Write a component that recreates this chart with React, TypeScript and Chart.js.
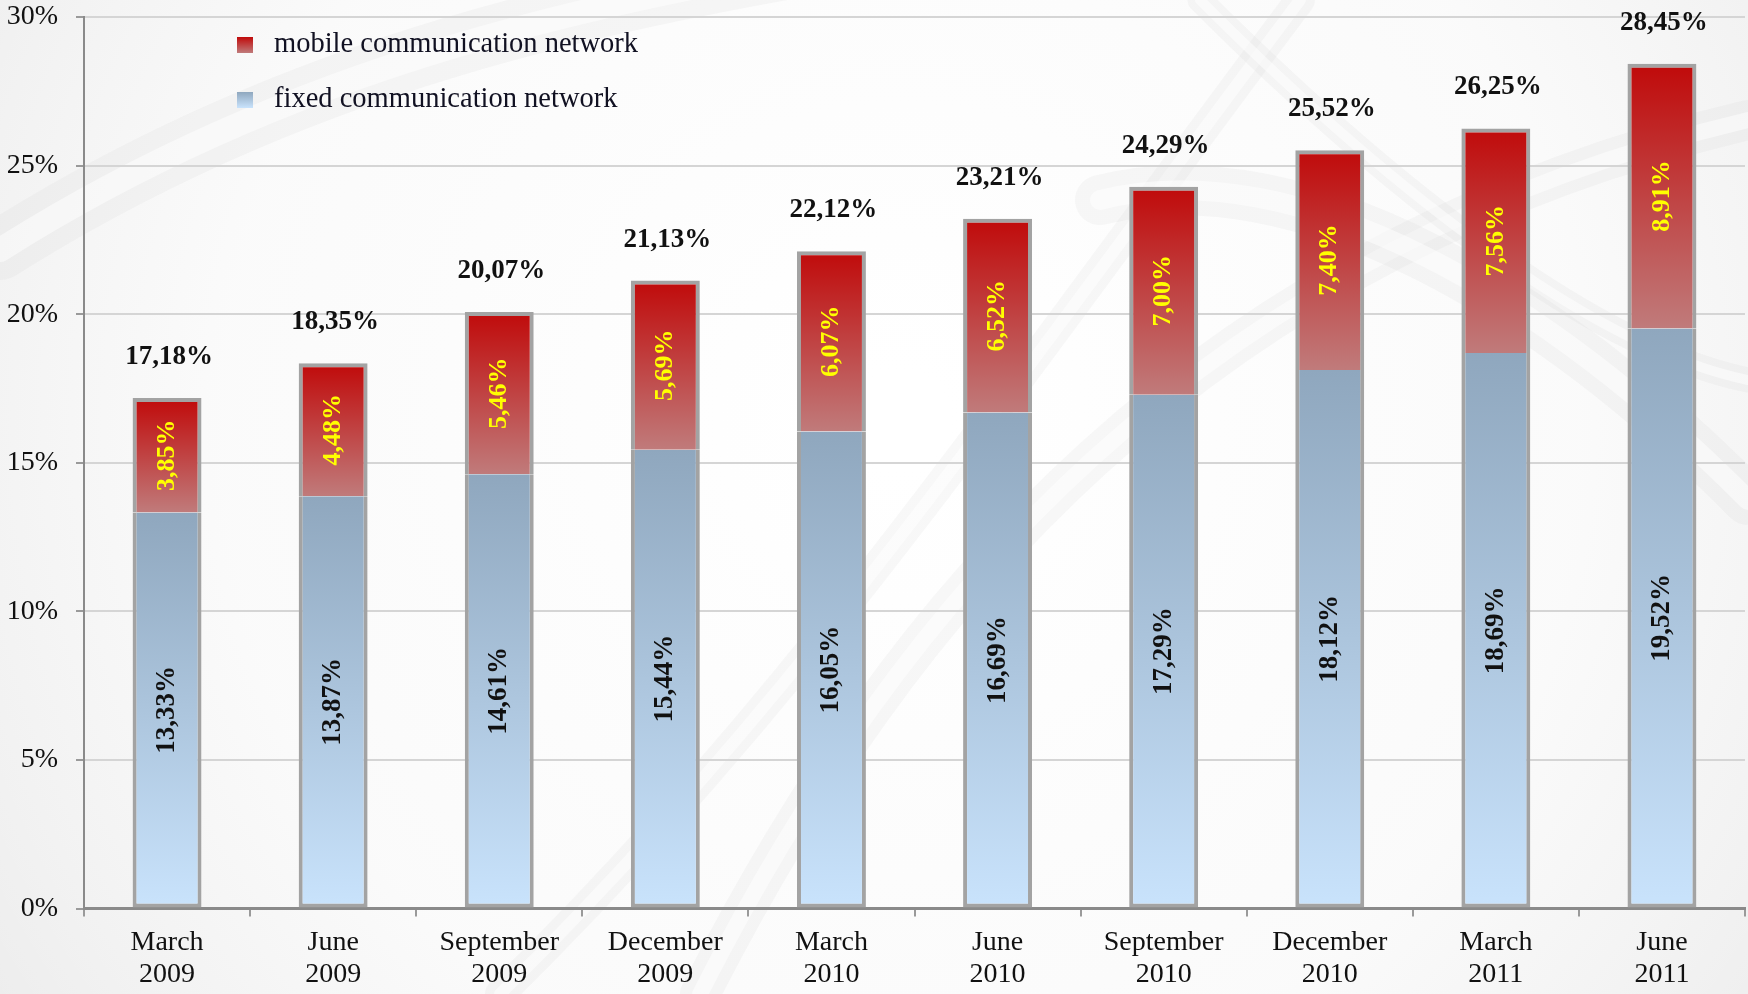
import React, { useEffect, useRef } from 'react';
import { Chart, registerables } from 'chart.js';

Chart.register(...registerables);

const categories: string[][] = [
  ['March', '2009'], ['June', '2009'], ['September', '2009'], ['December', '2009'],
  ['March', '2010'], ['June', '2010'], ['September', '2010'], ['December', '2010'],
  ['March', '2011'], ['June', '2011'],
];
const fixedValues = [13.33, 13.87, 14.61, 15.44, 16.05, 16.69, 17.29, 18.12, 18.69, 19.52];
const mobileValues = [3.85, 4.48, 5.46, 5.69, 6.07, 6.52, 7.0, 7.4, 7.56, 8.91];
const totalValues = [17.18, 18.35, 20.07, 21.13, 22.12, 23.21, 24.29, 25.52, 26.25, 28.45];
const yTicks = [0, 5, 10, 15, 20, 25, 30];
const legendLabels = ['mobile communication network', 'fixed communication network'];

const SERIF = "'Liberation Serif', 'DejaVu Serif', serif";
const fmt = (v: number) => v.toFixed(2).replace('.', ',') + '%';

const FIXED_TOP = '#8fa7be';
const FIXED_BOTTOM = '#c9e3fc';
const MOBILE_TOP = '#c00a0a';
const MOBILE_BOTTOM = '#c07b7b';

function segGradient(c: any, lowArr: number[] | null, highArr: number[], top: string, bottom: string, fallback: string) {
  const chart = c.chart;
  const y = chart.scales && chart.scales.y;
  if (!chart.chartArea || !y || c.dataIndex === undefined) return fallback;
  const i = c.dataIndex;
  const low = lowArr ? lowArr[i] : 0;
  const yTop = y.getPixelForValue(low + highArr[i]);
  const yBot = y.getPixelForValue(low);
  if (!isFinite(yTop) || !isFinite(yBot) || yTop === yBot) return fallback;
  const g = chart.ctx.createLinearGradient(0, yTop, 0, yBot);
  g.addColorStop(0, top);
  g.addColorStop(1, bottom);
  return g;
}

const backgroundPlugin = {
  id: 'bgDecor',
  beforeDraw(chart: any) {
    const { ctx, width, height } = chart;
    ctx.save();
    ctx.fillStyle = '#ececec';
    ctx.fillRect(0, 0, width, height);
    const rg = ctx.createRadialGradient(900, 420, 50, 900, 420, 1100);
    rg.addColorStop(0, 'rgba(255,255,255,1)');
    rg.addColorStop(0.6, 'rgba(252,252,252,0.9)');
    rg.addColorStop(1, 'rgba(255,255,255,0)');
    ctx.fillStyle = rg;
    ctx.fillRect(0, 0, width, height);
    ctx.lineCap = 'round';
    const strokes: [number, number, number, number, number, number, number, number, number][] = [
      [0, 250, 300, 60, 600, 0, 900, -50, 60],
      [700, 994, 900, 600, 1200, 250, 1748, 120, 40],
      [500, 994, 800, 700, 1000, 400, 1300, 0, 30],
      [1100, 200, 1300, 150, 1550, 300, 1748, 500, 50],
      [1200, 0, 1400, 200, 1600, 350, 1748, 380, 25],
    ];
    for (const s of strokes) {
      ctx.beginPath();
      ctx.moveTo(s[0], s[1]);
      ctx.bezierCurveTo(s[2], s[3], s[4], s[5], s[6], s[7]);
      ctx.strokeStyle = 'rgba(200,200,200,0.13)';
      ctx.lineWidth = s[8];
      ctx.stroke();
      ctx.strokeStyle = 'rgba(255,255,255,0.5)';
      ctx.lineWidth = s[8] * 0.4;
      ctx.stroke();
    }
    ctx.restore();
  },
};

const labelPlugin = {
  id: 'barLabels',
  afterDatasetsDraw(chart: any) {
    const ctx = chart.ctx;
    const mf = chart.getDatasetMeta(0);
    const mm = chart.getDatasetMeta(1);
    ctx.save();
    ctx.textAlign = 'center';
    ctx.textBaseline = 'middle';
    for (let i = 0; i < categories.length; i++) {
      const bf: any = mf.data[i];
      const bm: any = mm.data[i];
      if (!bf || !bm) continue;
      ctx.save();
      ctx.translate(bf.x, (bf.y + bf.base) / 2);
      ctx.rotate(-Math.PI / 2);
      ctx.font = `bold 27px ${SERIF}`;
      ctx.fillStyle = '#111111';
      ctx.fillText(fmt(fixedValues[i]), 0, 0);
      ctx.restore();
      ctx.save();
      ctx.translate(bm.x, (bm.y + bm.base) / 2);
      ctx.rotate(-Math.PI / 2);
      ctx.font = `bold 26px ${SERIF}`;
      ctx.fillStyle = '#ffff00';
      ctx.fillText(fmt(mobileValues[i]), 0, 0);
      ctx.restore();
      ctx.font = `bold 27px ${SERIF}`;
      ctx.fillStyle = '#111111';
      ctx.fillText(fmt(totalValues[i]), bm.x + 2, bm.y - 41);
    }
    ctx.restore();
  },
};

const legendPlugin = {
  id: 'customLegend',
  afterDraw(chart: any) {
    const ctx = chart.ctx;
    ctx.save();
    const items = [
      { text: legendLabels[0], top: MOBILE_TOP, bottom: MOBILE_BOTTOM, y: 45 },
      { text: legendLabels[1], top: FIXED_TOP, bottom: FIXED_BOTTOM, y: 100 },
    ];
    for (const it of items) {
      const g = ctx.createLinearGradient(0, it.y - 8, 0, it.y + 8);
      g.addColorStop(0, it.top);
      g.addColorStop(1, it.bottom);
      ctx.fillStyle = g;
      ctx.fillRect(237, it.y - 8, 16, 16);
      ctx.font = `28.5px ${SERIF}`;
      ctx.fillStyle = '#111122';
      ctx.textAlign = 'left';
      ctx.textBaseline = 'middle';
      ctx.fillText(it.text, 274, it.y);
    }
    ctx.restore();
  },
};

export default function App() {
  const ref = useRef<HTMLCanvasElement>(null);
  useEffect(() => {
    document.body.style.margin = '0';
    const canvas = ref.current;
    if (!canvas) return;
    const chart = new Chart(canvas, {
      type: 'bar',
      data: {
        labels: categories,
        datasets: [
          {
            label: legendLabels[1],
            data: fixedValues,
            backgroundColor: (c: any) => segGradient(c, null, fixedValues, FIXED_TOP, FIXED_BOTTOM, '#abc5dd'),
            borderColor: '#a3a3a3',
            borderWidth: { top: 0, left: 4, right: 4, bottom: 4 },
            borderSkipped: false,
          },
          {
            label: legendLabels[0],
            data: mobileValues,
            backgroundColor: (c: any) => segGradient(c, fixedValues, mobileValues, MOBILE_TOP, MOBILE_BOTTOM, '#c04040'),
            borderColor: '#a3a3a3',
            borderWidth: { top: 4, left: 4, right: 4, bottom: 0 },
            borderSkipped: false,
          },
        ],
      },
      options: {
        responsive: false,
        animation: false,
        devicePixelRatio: 1,
        layout: { padding: { top: 17, right: 3, left: 0, bottom: 0 } },
        datasets: {
          bar: { categoryPercentage: 1, barPercentage: 0.415 },
        },
        plugins: {
          legend: { display: false },
          tooltip: { enabled: false },
        },
        scales: {
          x: {
            stacked: true,
            afterFit: (s: any) => { s.height = 85.5; },
            border: { color: '#8a8a8a', width: 3 },
            grid: {
              display: true,
              drawOnChartArea: false,
              offset: true,
              color: '#9a9a9a',
              lineWidth: 2,
              tickLength: 8,
            },
            ticks: {
              color: '#111111',
              padding: 10,
              font: { family: SERIF, size: 28, lineHeight: 1.15 },
              maxRotation: 0,
              autoSkip: false,
            },
          },
          y: {
            stacked: true,
            min: 0,
            max: 30,
            afterFit: (s: any) => { s.width = 84; s.paddingTop = 0; s.paddingBottom = 0; },
            afterBuildTicks: (s: any) => { s.ticks = yTicks.map((v) => ({ value: v })); },
            border: { color: '#8a8a8a', width: 2 },
            grid: {
              color: '#d5d5d5',
              lineWidth: 2,
              tickColor: '#9a9a9a',
              tickLength: 8,
            },
            ticks: {
              color: '#111111',
              padding: 18,
              font: { family: SERIF, size: 28 },
              callback: (v: any) => v + '%',
            },
          },
        },
      },
      plugins: [backgroundPlugin, labelPlugin, legendPlugin],
    });
    return () => chart.destroy();
  }, []);
  return (
    <div style={{ width: 1748, height: 994 }}>
      <canvas ref={ref} width={1748} height={994} style={{ display: 'block', width: 1748, height: 994 }} />
    </div>
  );
}
